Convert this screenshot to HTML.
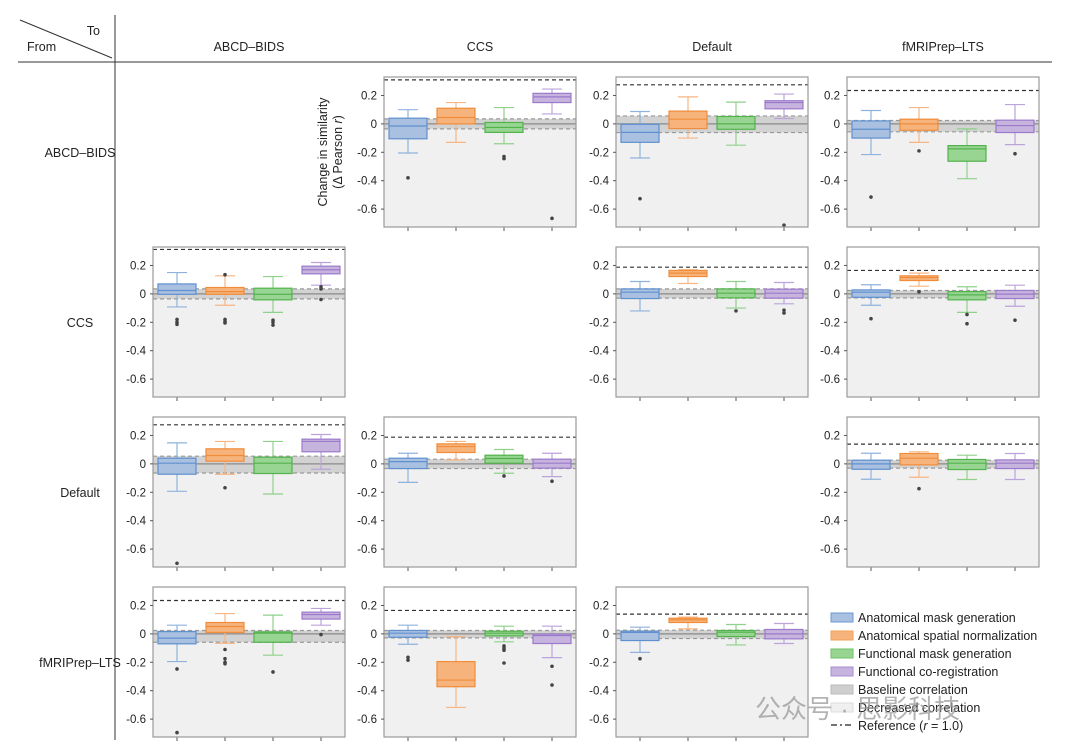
<!DOCTYPE html>
<html><head><meta charset="utf-8">
<style>
html,body{margin:0;padding:0;background:#fff;}
svg{display:block;font-family:"Liberation Sans","Noto Sans CJK SC",sans-serif;}
</style></head>
<body>
<svg id="chart" width="1080" height="752" viewBox="0 0 1080 752">
  <line x1="20" y1="20" x2="112" y2="58" stroke="#333" stroke-width="1"/>
  <text x="100" y="35" font-size="12.5" text-anchor="end" fill="#222">To</text>
  <text x="27" y="51" font-size="12.5" fill="#222">From</text>
  <line x1="18" y1="62" x2="1052" y2="62" stroke="#333" stroke-width="1"/>
  <line x1="115" y1="15" x2="115" y2="740" stroke="#333" stroke-width="1"/>
  <g id="plots"></g>
  <g font-size="12.5" fill="#222">
    <rect x="831" y="613" width="22" height="9" fill="#a9c0e0" stroke="#6b99d3"/>
    <text x="858" y="622">Anatomical mask generation</text>
    <rect x="831" y="631" width="22" height="9" fill="#f6b47c" stroke="#f3a05a"/>
    <text x="858" y="640">Anatomical spatial normalization</text>
    <rect x="831" y="649" width="22" height="9" fill="#98d592" stroke="#6cc166"/>
    <text x="858" y="658">Functional mask generation</text>
    <rect x="831" y="667" width="22" height="9" fill="#c6b3de" stroke="#a88cd0"/>
    <text x="858" y="676">Functional co-registration</text>
    <rect x="831" y="685" width="22" height="9" fill="#cfcfcf" stroke="#bbb"/>
    <text x="858" y="694">Baseline correlation</text>
    <rect x="831" y="703" width="22" height="9" fill="#f0f0f0" stroke="#ddd"/>
    <text x="858" y="712">Decreased correlation</text>
    <line x1="831" y1="725" x2="853" y2="725" stroke="#222" stroke-width="1.2" stroke-dasharray="6,3,2,3"/>
    <text x="858" y="730">Reference (<tspan font-style="italic">r</tspan> = 1.0)</text>
  </g>
  <text x="755" y="718" font-size="26" fill="#9a9a9a" opacity="0.75">公众号 · 思影科技</text>
</svg>
<script>
const pipelines = ["ABCD–BIDS", "CCS", "Default", "fMRIPrep–LTS"];
const categories = ["Anatomical mask generation", "Anatomical spatial normalization", "Functional mask generation", "Functional co-registration"];
const yTicks = [0.2, 0, -0.2, -0.4, -0.6];
const yTickLabels = ["0.2", "0", "-0.2", "-0.4", "-0.6"];
// panel order: [fromRow, toCol]
const panelPairs = [[0,1],[0,2],[0,3],[1,0],[1,2],[1,3],[2,0],[2,1],[2,3],[3,0],[3,1],[3,2]];
const referenceValues = [0.31,0.275,0.235, 0.313,0.188,0.165, 0.275,0.188,0.139, 0.235,0.165,0.139];
const bandLow = [-0.035,-0.061,-0.056, -0.035,-0.03,-0.028, -0.064,-0.033,-0.03, -0.059,-0.028,-0.033];
const bandHigh = [0.035,0.056,0.024, 0.035,0.035,0.024, 0.054,0.033,0.026, 0.024,0.024,0.026];
const whiskerLow = [
 [-0.205,-0.13,-0.14,0.07],[-0.24,-0.1,-0.15,0.038],[-0.216,-0.13,-0.386,-0.146],
 [-0.092,-0.08,-0.13,0.061],[-0.12,0.073,-0.1,-0.07],[-0.08,0.054,-0.13,-0.087],
 [-0.193,-0.073,-0.212,-0.038],[-0.13,0.028,-0.066,-0.09],[-0.108,-0.094,-0.11,-0.11],
 [-0.195,-0.066,-0.15,0.061],[-0.073,-0.518,-0.056,-0.167],[-0.13,0.035,-0.078,-0.068]];
const quartile1 = [
 [-0.105,0.0,-0.06,0.15],[-0.13,-0.033,-0.038,0.106],[-0.1,-0.045,-0.263,-0.061],
 [-0.003,-0.003,-0.042,0.141],[-0.033,0.122,-0.028,-0.03],[-0.024,0.094,-0.042,-0.033],
 [-0.073,0.019,-0.068,0.085],[-0.033,0.08,0.005,-0.03],[-0.038,-0.007,-0.04,-0.033],
 [-0.07,0.01,-0.059,0.104],[-0.024,-0.372,-0.014,-0.068],[-0.047,0.08,-0.019,-0.035]];
const medians = [
 [-0.015,0.045,-0.025,0.19],[-0.06,0.033,0.0,0.15],[-0.038,0.0,-0.176,-0.012],
 [0.024,0.016,-0.003,0.17],[0.012,0.146,0.005,0.005],[0.012,0.115,-0.007,-0.002],
 [0.005,0.059,0.005,0.158],[0.016,0.122,0.038,0.005],[0.0,0.04,0.005,0.005],
 [-0.03,0.052,0.005,0.136],[0.005,-0.325,0.005,-0.012],[0.01,0.099,0.012,0.0]];
const quartile3 = [
 [0.04,0.11,0.01,0.215],[-0.003,0.09,0.052,0.163],[0.021,0.033,-0.153,0.026],
 [0.07,0.045,0.04,0.195],[0.035,0.165,0.035,0.033],[0.028,0.127,0.016,0.024],
 [0.04,0.106,0.047,0.174],[0.04,0.141,0.061,0.033],[0.026,0.073,0.031,0.028],
 [0.016,0.08,0.014,0.153],[0.024,-0.195,0.019,-0.002],[0.019,0.11,0.024,0.031]];
const whiskerHigh = [
 [0.10,0.15,0.115,0.245],[0.087,0.19,0.153,0.21],[0.094,0.115,-0.035,0.136],
 [0.15,0.127,0.122,0.221],[0.087,0.17,0.087,0.08],[0.064,0.146,0.05,0.061],
 [0.148,0.158,0.158,0.207],[0.075,0.158,0.101,0.075],[0.075,0.085,0.061,0.073],
 [0.061,0.143,0.132,0.179],[0.061,-0.02,0.054,0.054],[0.047,0.118,0.066,0.073]];
const outliers = [
 [[-0.38],[],[-0.23,-0.245],[-0.665]],[[-0.527],[],[],[-0.713]],[[-0.515],[-0.19],[],[-0.21]],
 [[-0.18,-0.2,-0.215],[0.135,-0.18,-0.195,-0.205],[-0.185,-0.2,-0.22],[0.05,0.035,-0.04]],
 [[],[],[-0.12],[-0.115,-0.135]],[[-0.175],[0.015],[-0.145,-0.21],[-0.185]],
 [[-0.70],[-0.168],[],[]],[[],[],[-0.085],[-0.122]],[[],[-0.175],[],[]],
 [[-0.247,-0.695],[-0.11,-0.175,-0.2,-0.21],[-0.268],[-0.005]],
 [[-0.165,-0.185],[],[-0.085,-0.1,-0.115,-0.205],[-0.228,-0.36]],[[-0.175],[],[],[]]];

const fills = ["#a9c0e0","#f6b47c","#98d592","#c6b3de"];
const strokes = ["#5f90cf","#f08c3a","#52b24c","#9c7acb"];
const whiskerCol = ["#8fb2dd","#f7b582","#8fd08a","#bba3dc"];
const NS = "http://www.w3.org/2000/svg";
const colLeft = [153,384,616,847], W = 192, rowTop0 = 77, rowStep = 170, H = 150;
const yMax = 0.33, yMin = -0.726;
function mk(tag, attrs, parent){const e=document.createElementNS(NS,tag);for(const k in attrs)e.setAttribute(k,attrs[k]);parent.appendChild(e);return e;}
const root = document.getElementById('plots');

// header labels
pipelines.forEach((p,i)=>{
  const t = mk('text',{x:colLeft[i]+W/2,y:51,'font-size':12.5,'text-anchor':'middle',fill:'#222'},root);
  t.textContent = p;
  
  
  const r = mk('text',{x:80,y:rowTop0+rowStep*i+80,'font-size':12.5,'text-anchor':'middle',fill:'#222'},root);
  r.textContent = p;
  
  
});

panelPairs.forEach((pair,pi)=>{
  const row = pair[0], col = pair[1];
  const L = colLeft[col], T = rowTop0 + rowStep*row;
  const yS = v => T + (yMax - v)/(yMax - yMin)*H;
  const xS = i => L + 24 + 48*i;
  const g = mk('g',{},root);
  
  
  // background
  mk('rect',{x:L,y:T,width:W,height:H,fill:'#fff'},g);
  const dec = mk('rect',{x:L,y:yS(bandLow[pi]),width:W,height:T+H-yS(bandLow[pi]),fill:'#f0f0f0'},g);
  
  
  const band = mk('rect',{x:L,y:yS(bandHigh[pi]),width:W,height:yS(bandLow[pi])-yS(bandHigh[pi]),fill:'#d2d2d2'},g);
  
  
  [bandHigh[pi],bandLow[pi]].forEach(v=>{mk('line',{x1:L,x2:L+W,y1:yS(v),y2:yS(v),stroke:'#999','stroke-width':1.2,'stroke-dasharray':'4,3'},g);});
  mk('line',{x1:L,x2:L+W,y1:yS(0),y2:yS(0),stroke:'#8a8a8a','stroke-width':1.2},g);
  const ref = mk('line',{x1:L,x2:L+W,y1:yS(referenceValues[pi]),y2:yS(referenceValues[pi]),stroke:'#333','stroke-width':1.2,'stroke-dasharray':'4,3'},g);
  
  
  // boxes
  for(let i=0;i<4;i++){
    const x = xS(i), bw = 38;
    const bg = mk('g',{},g);
    
    
    const wc = whiskerCol[i];
    mk('line',{x1:x,x2:x,y1:yS(whiskerHigh[pi][i]),y2:yS(quartile3[pi][i]),stroke:wc,'stroke-width':1.2},bg);
    mk('line',{x1:x,x2:x,y1:yS(quartile1[pi][i]),y2:yS(whiskerLow[pi][i]),stroke:wc,'stroke-width':1.2},bg);
    mk('line',{x1:x-10,x2:x+10,y1:yS(whiskerHigh[pi][i]),y2:yS(whiskerHigh[pi][i]),stroke:wc,'stroke-width':1.2},bg);
    mk('line',{x1:x-10,x2:x+10,y1:yS(whiskerLow[pi][i]),y2:yS(whiskerLow[pi][i]),stroke:wc,'stroke-width':1.2},bg);
    const y3 = yS(quartile3[pi][i]), y1 = yS(quartile1[pi][i]);
    mk('rect',{x:x-bw/2,y:y3,width:bw,height:Math.max(1,y1-y3),fill:fills[i],stroke:strokes[i],'stroke-width':1.2},bg);
    mk('line',{x1:x-bw/2,x2:x+bw/2,y1:yS(medians[pi][i]),y2:yS(medians[pi][i]),stroke:strokes[i],'stroke-width':1.2},bg);
    outliers[pi][i].forEach(v=>{
      const c = mk('circle',{cx:x,cy:yS(v),r:1.8,fill:'#444'},bg);
      
      
    });
    mk('line',{x1:x,x2:x,y1:T+H,y2:T+H+4,stroke:'#555','stroke-width':1},g);
  }
  // frame
  mk('rect',{x:L,y:T,width:W,height:H,fill:'none',stroke:'#9a9a9a','stroke-width':1.2},g);
  // y ticks
  yTicks.forEach((v,k)=>{
    mk('line',{x1:L-3,x2:L,y1:yS(v),y2:yS(v),stroke:'#555','stroke-width':1},g);
    const t = mk('text',{x:L-7,y:yS(v)+4,'font-size':11.5,'text-anchor':'end',fill:'#222'},g);
    t.textContent = yTickLabels[k];
    
    
  });
});

// y-axis title
const yt = mk('text',{transform:'translate(327,152) rotate(-90)','font-size':12.5,'text-anchor':'middle',fill:'#222'},root);


const s1 = mk('tspan',{x:0,dy:0},yt); s1.textContent='Change in similarity';
const s2 = mk('tspan',{x:0,dy:15},yt); s2.textContent='(Δ Pearson ';
const s3 = mk('tspan',{'font-style':'italic'},yt); s3.textContent='r';
const s4 = mk('tspan',{},yt); s4.textContent=')';
</script>
</body></html>
